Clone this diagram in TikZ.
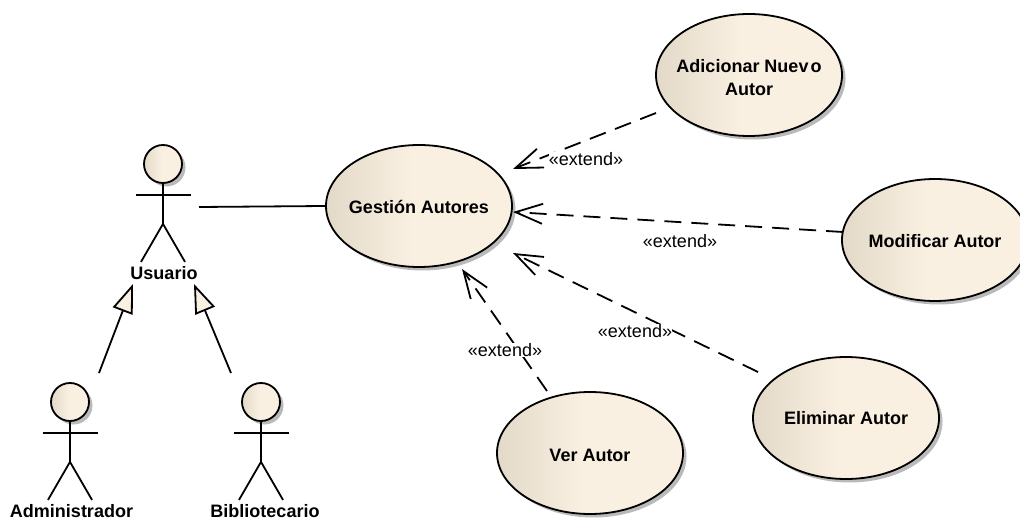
\documentclass[tikz,border=0pt]{standalone}
\usepackage{fontspec}
\setmainfont{Liberation Sans}
\usetikzlibrary{arrows.meta,shadows,shapes.geometric}
\definecolor{creamdark}{HTML}{E3D9C8}
\definecolor{creamlight}{HTML}{FAF0E2}
\pgfdeclarehorizontalshading{creamshade}{100bp}{color(0bp)=(creamdark); color(25bp)=(creamdark); color(48bp)=(creamlight); color(100bp)=(creamlight)}
\tikzset{
	softshadow/.style={drop shadow={shadow xshift=3.5pt, shadow yshift=-3.5pt, opacity=.45, fill=black!60}},
	usecase/.style={ellipse, draw, line width=1.8pt, shading=creamshade, softshadow, minimum width=186pt, minimum height=122pt, inner xsep=-20pt, inner ysep=0pt, align=center, text height=18pt, text depth=2pt, font=\fontsize{18}{23}\selectfont\bfseries},
	actorhead/.style={circle, draw, line width=1.8pt, shading=creamshade, softshadow, minimum size=38pt, inner sep=0pt},
	actorline/.style={line width=1.8pt},
	actorlabel/.style={font=\fontsize{18}{21}\selectfont\bfseries, inner sep=0pt},
	extendlabel/.style={font=\fontsize{18}{21}\selectfont, inner sep=0pt, fill=white},
	extendline/.style={line width=1.8pt, dash pattern=on 17pt off 10pt, -{Straight Barb[length=27pt, width=20pt, line width=1.8pt]}},
	genline/.style={line width=1.8pt, -{Triangle[open, length=29pt, width=21pt, fill=creamlight, line width=1.8pt]}}
}
\begin{document}
\begin{tikzpicture}[x=1pt, y=-1pt]
	\useasboundingbox (0,0) rectangle (1020,521);
	\node[usecase] (gestion) at (419,206) {Gestión Autores};
	\node[usecase, text height=43pt] (adicionar) at (749,75) {Adicionar Nuev\kern2pt o\\Autor};
	\node[usecase] (modificar) at (935,240) {Modificar Autor};
	\node[usecase, text height=16pt, text depth=3pt] (eliminar) at (846,418) {Eliminar Autor};
	\node[usecase] (ver) at (590,453) {Ver Autor};
	\foreach \nm/\hx/\hy in {usuario/163/164, administrador/70/402, bibliotecario/261/402}{
		\node[actorhead] (\nm) at (\hx,\hy) {};
		\draw[actorline] (\nm.south) -- ++(0,40) coordinate (hip) -- ++(-22,38) (hip) -- ++(22,38);
		\draw[actorline] (\nm.south) ++(-27.5,11) -- ++(55,0);
	}
	\node[actorlabel] (usuariolabel) at (164,273) {Usuario};
	\node[actorlabel] (adminlabel) at (71.5,511.5) {Administrador};
	\node[actorlabel] (biblabel) at (265,511.5) {Bibliotecario};
	\coordinate (usuarioend) at (199,207);
	\coordinate (admintail) at (99,373);
	\coordinate (admintip) at (133,284);
	\coordinate (bibtail) at (231,373);
	\coordinate (bibtip) at (194,284);
	\coordinate (adicionartail) at (656,113);
	\coordinate (adicionartip) at (513,169);
	\coordinate (modificartail) at (843,232);
	\coordinate (modificartip) at (513,212);
	\coordinate (eliminartail) at (758,372);
	\coordinate (eliminartip) at (513,253);
	\coordinate (vertail) at (547,391);
	\coordinate (vertip) at (462,269);
	\draw[actorline] (usuarioend) -- (gestion.west);
	\draw[genline] (admintail) -- (admintip);
	\draw[genline] (bibtail) -- (bibtip);
	\draw[extendline] (adicionartail) -- (adicionartip);
	\draw[extendline] (modificartail) -- (modificartip);
	\draw[extendline] (eliminartail) -- (eliminartip);
	\draw[extendline] (vertail) -- (vertip);
	\node[extendlabel] (extenda) at (586,159) {«extend»};
	\node[extendlabel] (extendb) at (680,241) {«extend»};
	\node[extendlabel] (extendc) at (635,331) {«extend»};
	\node[extendlabel] (extendd) at (505,350) {«extend»};
\end{tikzpicture}
\end{document}
